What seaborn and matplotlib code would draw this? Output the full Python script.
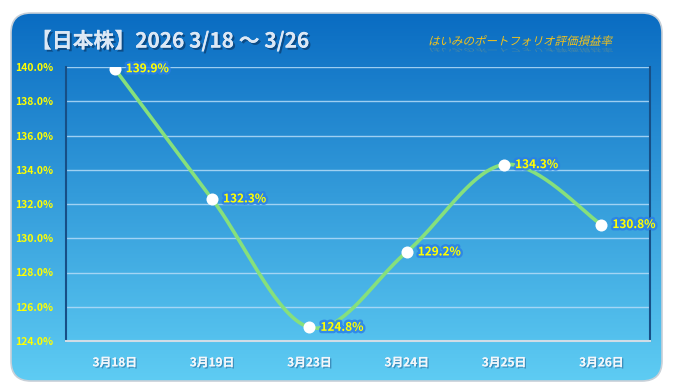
import numpy as np
import pandas as pd
import matplotlib
matplotlib.use("Agg")
import matplotlib.pyplot as plt
import matplotlib.patheffects as pe
from matplotlib.patches import FancyBboxPatch, PathPatch
from matplotlib.textpath import TextPath
from matplotlib.font_manager import FontProperties
from matplotlib.transforms import Affine2D
import seaborn as sns

# data
dates = ['3月18日', '3月19日', '3月23日', '3月24日', '3月25日', '3月26日']
rates = [139.9, 132.3, 124.8, 129.2, 134.3, 130.8]
y_ticks = [124, 126, 128, 130, 132, 134, 136, 138, 140]

sns.set_style("white")
plt.rcParams['font.family'] = ['Noto Sans CJK JP', 'DejaVu Sans']

W, H = 674, 392
fig = plt.figure(figsize=(W / 100, H / 100), dpi=100)
fig.patch.set_facecolor('white')

# background panel with vertical gradient
bg = fig.add_axes([0, 0, 1, 1])
bg.set_xlim(0, W)
bg.set_ylim(H, 0)
bg.axis('off')
grad = np.linspace(0, 1, 256).reshape(-1, 1)
top = np.array([0x0a, 0x6c, 0xc2]) / 255
bot = np.array([0x5e, 0xcc, 0xf3]) / 255
img = (top + (bot - top) * grad[..., None]).reshape(256, 1, 3)
x0, y0, x1, y1 = 11, 13, 662, 381
im = bg.imshow(img, extent=[x0, x1, y1, y0], aspect='auto', zorder=1)
panel = FancyBboxPatch((x0, y0), x1 - x0, y1 - y0,
                       boxstyle="round,pad=0,rounding_size=20",
                       transform=bg.transData, facecolor='none',
                       edgecolor='#c8d0d8', linewidth=1.2, zorder=2)
bg.add_patch(panel)
im.set_clip_path(panel)

bg.text(31, 41, '【日本株】2026 3/18 〜 3/26', color='#dce8f5', fontsize=15,
        fontweight='bold', va='center', ha='left',
        path_effects=[pe.withSimplePatchShadow(offset=(1.5, -1.5), shadow_rgbFace='#0a3a6a', alpha=0.7), pe.Normal()])

# italic subtitle drawn as skewed text path
sub = 'はいみのポートフォリオ評価損益率'
tp = TextPath((0, 0), sub, size=11.5, prop=FontProperties(family='Noto Sans CJK JP'))
tr = Affine2D().skew_deg(14, 0).scale(1, -1).translate(428, 45)
bg.add_patch(PathPatch(tr.transform_path(tp), facecolor='#f2c21c', edgecolor='none', zorder=3))
tr2 = Affine2D().skew_deg(14, 0).scale(1, 0.45).translate(428, 48)
bg.add_patch(PathPatch(tr2.transform_path(tp), facecolor='#e8c040', edgecolor='none', alpha=0.25, zorder=3))

# main plot
l, r, t, b = 66, 650, 67, 341
ax = fig.add_axes([l / W, 1 - b / H, (r - l) / W, (b - t) / H])
ax.set_facecolor('none')

# smoothed line (spreadsheet-style Bezier smoothing through the points)
xs = np.arange(len(rates), dtype=float)
ys = np.array(rates)
P = np.column_stack([xs, ys])
Pe = np.vstack([P[0], P, P[-1]])
curve = []
tt = np.linspace(0, 1, 40)
for i in range(1, len(Pe) - 2):
    p0, p1, p2, p3 = Pe[i - 1], Pe[i], Pe[i + 1], Pe[i + 2]
    c1 = p1 + (p2 - p0) / 6
    c2 = p2 - (p3 - p1) / 6
    seg = ((1 - tt) ** 3)[:, None] * p1 + (3 * (1 - tt) ** 2 * tt)[:, None] * c1 \
        + (3 * (1 - tt) * tt ** 2)[:, None] * c2 + (tt ** 3)[:, None] * p2
    curve.append(seg)
curve = np.vstack(curve)
df_curve = pd.DataFrame({'x': curve[:, 0], 'y': curve[:, 1]})
df = pd.DataFrame({'x': xs, 'y': ys, 'date': dates})

ax.plot(df_curve['x'], df_curve['y'], color='#86e07c', linewidth=2.6,
        solid_capstyle='round', zorder=3)
sns.scatterplot(data=df, x='x', y='y', ax=ax, color='white', s=75,
                edgecolor='white', linewidth=0, zorder=4, legend=False)

for xv, yv in zip(xs, ys):
    ax.annotate(f'{yv:.1f}%', (xv, yv), xytext=(8, 0), textcoords='offset points',
                color='#ffff00', fontsize=8.5, fontweight='bold', va='center', ha='left',
                path_effects=[pe.Stroke(linewidth=3.5, foreground='#2a7fe6', alpha=0.8), pe.Normal()],
                zorder=5)

ax.set_xlim(-0.5, len(dates) - 0.5)
ax.set_ylim(124, 140)
ax.set_yticks(y_ticks)
ax.set_yticklabels([f'{v:.1f}%' for v in y_ticks])
ax.set_xticks(xs)
ax.set_xticklabels(dates)
ax.set_xticks(np.arange(-0.5, len(dates)), minor=True)
ax.set_xlabel('')
ax.set_ylabel('')
for v in y_ticks[1:]:
    ax.axhline(v, color='#b4dcf8', linewidth=1, alpha=0.85, zorder=1)

ax.tick_params(axis='y', colors='#ffff00', labelsize=7.5, length=0, pad=9)
ax.tick_params(axis='x', which='major', colors='white', labelsize=8.5, length=0, pad=11)
ax.tick_params(axis='x', which='minor', length=4, width=1, color='#d0dce6', direction='out')
for lab in ax.get_yticklabels():
    lab.set_fontweight('bold')
for lab in ax.get_xticklabels():
    lab.set_fontweight('bold')
    lab.set_color('#f2f6fa')
    lab.set_path_effects([pe.withSimplePatchShadow(offset=(1, -1), shadow_rgbFace='#2a6a9a', alpha=0.6), pe.Normal()])

ax.spines['top'].set_visible(False)
ax.spines['left'].set_color('#174f86')
ax.spines['left'].set_linewidth(1.5)
ax.spines['right'].set_color('#174f86')
ax.spines['right'].set_linewidth(1.5)
ax.spines['bottom'].set_color('#d0dce6')
ax.spines['bottom'].set_linewidth(1.5)

fig.savefig('out.png', dpi=100)
